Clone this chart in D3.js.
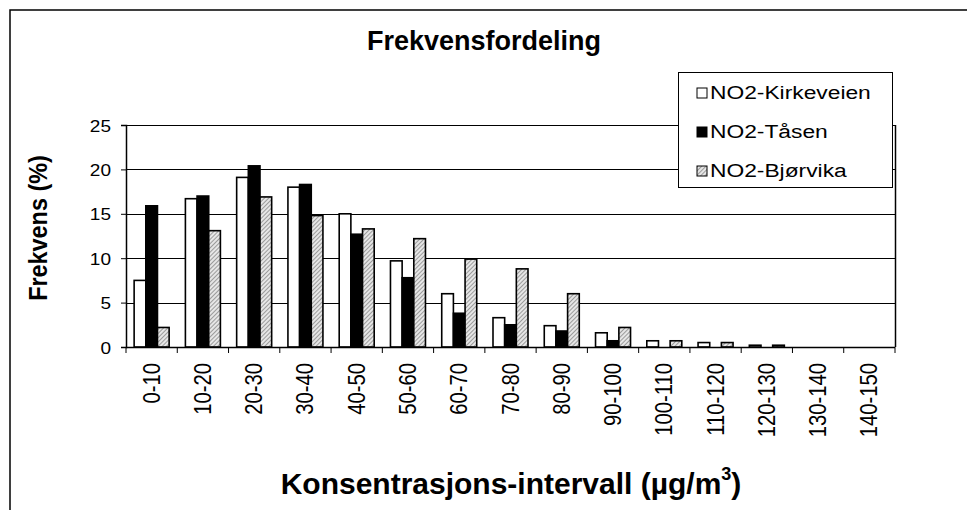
<!DOCTYPE html>
<html>
<head>
<meta charset="utf-8">
<script src="https://cdn.jsdelivr.net/npm/d3@7"></script>
<style>
  html, body { margin: 0; padding: 0; background: #fff; }
  svg { display: block; font-family: "Liberation Sans", Arial, sans-serif; }
</style>
</head>
<body>
<svg id="chart" width="967" height="510"></svg>
<script>
// Concentration intervals (µg/m3)
const categories = ["0-10","10-20","20-30","30-40","40-50","50-60","60-70","70-80",
  "80-90","90-100","100-110","110-120","120-130","130-140","140-150"];

// Frequency (%) per station
const seriesNames = ["NO2-Kirkeveien", "NO2-Tåsen", "NO2-Bjørvika"];
const kirkeveien = [7.5, 16.7, 19.1, 18.0, 15.0, 9.7, 6.0, 3.3, 2.4, 1.6, 0.7, 0.5, 0.2, 0, 0];
const taasen     = [15.9, 17.0, 20.4, 18.3, 12.7, 7.8, 3.8, 2.5, 1.8, 0.7, 0, 0, 0, 0, 0];
const bjorvika   = [2.2, 13.1, 16.9, 14.8, 13.3, 12.2, 9.9, 8.8, 6.0, 2.2, 0.7, 0.5, 0.2, 0, 0];
const yTicks = [0, 5, 10, 15, 20, 25];

const seriesValues = [kirkeveien, taasen, bjorvika];
const fills = ["#ffffff", "#000000", "url(#hatch)"];

const svg = d3.select("#chart");

// Hatched fill
const defs = svg.append("defs");
const pat = defs.append("pattern")
  .attr("id", "hatch")
  .attr("patternUnits", "userSpaceOnUse")
  .attr("width", 3).attr("height", 3)
  .attr("patternTransform", "rotate(45)");
pat.append("rect").attr("width", 3).attr("height", 3).attr("fill", "#e6e6e6");
pat.append("line").attr("x1", 0).attr("y1", 0).attr("x2", 0).attr("y2", 3)
  .attr("stroke", "#7a7a7a").attr("stroke-width", 1.4);

// Outer chart frame
svg.append("rect")
  .attr("x", 10).attr("y", 10).attr("width", 1000).attr("height", 600)
  .attr("fill", "none").attr("stroke", "#000").attr("stroke-width", 1.5);

const plot = { left: 126, right: 895, top: 125, bottom: 347 };

const x0 = d3.scaleBand()
  .domain(categories)
  .range([plot.left, plot.right])
  .paddingInner(0).paddingOuter(0);

const inner = 35;
const x1 = d3.scaleBand()
  .domain(d3.range(seriesNames.length))
  .range([(x0.bandwidth() - inner) / 2, (x0.bandwidth() + inner) / 2]);

const y = d3.scaleLinear().domain([0, 25]).range([plot.bottom, plot.top]);

// Gridlines
svg.append("g")
  .selectAll("line")
  .data(yTicks.filter(d => d > 0))
  .join("line")
  .attr("x1", plot.left).attr("x2", plot.right)
  .attr("y1", d => Math.round(y(d)) + 0.5).attr("y2", d => Math.round(y(d)) + 0.5)
  .attr("stroke", "#000").attr("stroke-width", 1);

// Plot area right border
svg.append("line")
  .attr("x1", plot.right + 0.5).attr("x2", plot.right + 0.5)
  .attr("y1", plot.top).attr("y2", plot.bottom)
  .attr("stroke", "#000").attr("stroke-width", 1.5);

// Bars
const groups = svg.append("g")
  .selectAll("g")
  .data(categories)
  .join("g")
  .attr("transform", d => `translate(${x0(d)},0)`);

groups.selectAll("rect")
  .data((c, i) => seriesValues.map((vals, s) => ({ s, v: vals[i] })))
  .join("rect")
  .filter(d => d.v > 0)
  .attr("x", d => x1(d.s))
  .attr("width", x1.bandwidth())
  .attr("y", d => y(d.v))
  .attr("height", d => y(0) - y(d.v))
  .attr("fill", d => fills[d.s])
  .attr("stroke", "#000")
  .attr("stroke-width", 1.6);

// Y axis
const yAxis = svg.append("g")
  .attr("transform", `translate(${plot.left},0)`)
  .call(d3.axisLeft(y).tickValues(yTicks).tickSize(5).tickPadding(0));
yAxis.select(".domain").attr("stroke", "#000").attr("stroke-width", 1.5);
yAxis.selectAll(".tick line").attr("stroke", "#000");
yAxis.selectAll(".tick text")
  .attr("x", 0).attr("dy", "0.36em")
  .attr("transform", "translate(-15,0) scale(1.12,1)")
  .attr("font-size", 17).attr("fill", "#000")
  .attr("font-family", "Liberation Sans, Arial, sans-serif");

// X axis with ticks at interval boundaries
const xAxis = svg.append("g")
  .attr("transform", `translate(0,${plot.bottom})`);
xAxis.append("line")
  .attr("x1", plot.left).attr("x2", plot.right)
  .attr("y1", 0.5).attr("y2", 0.5)
  .attr("stroke", "#000").attr("stroke-width", 1.5);
const boundaries = categories.map(c => x0(c)).concat([x0(categories[categories.length - 1]) + x0.bandwidth()]);
xAxis.selectAll("line.tk")
  .data(boundaries)
  .join("line")
  .attr("class", "tk")
  .attr("x1", d => d).attr("x2", d => d)
  .attr("y1", 0).attr("y2", 6)
  .attr("stroke", "#000");
xAxis.selectAll("text")
  .data(categories)
  .join("text")
  .attr("transform", d => `translate(${x0(d) + x0.bandwidth() / 2 + 8},16) rotate(-90) scale(0.88,1)`)
  .attr("text-anchor", "end")
  .attr("font-size", 23)
  .attr("fill", "#000")
  .text(d => d);

// Title
svg.append("text")
  .attr("x", 484).attr("y", 50)
  .attr("text-anchor", "middle")
  .attr("font-size", 27).attr("font-weight", "bold")
  .text("Frekvensfordeling");

// Y axis title
svg.append("text")
  .attr("transform", "translate(47,228) rotate(-90) scale(0.9,1)")
  .attr("text-anchor", "middle")
  .attr("font-size", 26).attr("font-weight", "bold")
  .text("Frekvens (%)");

// X axis title
const xt = svg.append("text")
  .attr("x", 511).attr("y", 494)
  .attr("text-anchor", "middle")
  .attr("font-size", 30).attr("font-weight", "bold");
xt.append("tspan").text("Konsentrasjons-intervall (µg/m");
xt.append("tspan").attr("font-size", 18).attr("dy", -14).text("3");
xt.append("tspan").attr("dy", 14).text(")");

// Legend
const lg = svg.append("g");
lg.append("rect")
  .attr("x", 678.5).attr("y", 72.5).attr("width", 214).attr("height", 115)
  .attr("fill", "#fff").attr("stroke", "#000").attr("stroke-width", 1);
const rows = lg.selectAll("g.row")
  .data(seriesNames)
  .join("g")
  .attr("class", "row")
  .attr("transform", (d, i) => `translate(697,${88 + i * 39})`);
rows.append("rect")
  .attr("width", 10).attr("height", 10)
  .attr("fill", (d, i) => fills[i])
  .attr("stroke", "#000").attr("stroke-width", 1);
rows.append("text")
  .attr("transform", "translate(13,10.5) scale(1.2,1)")
  .attr("font-size", 19)
  .attr("fill", "#000")
  .text(d => d);
</script>
</body>
</html>
